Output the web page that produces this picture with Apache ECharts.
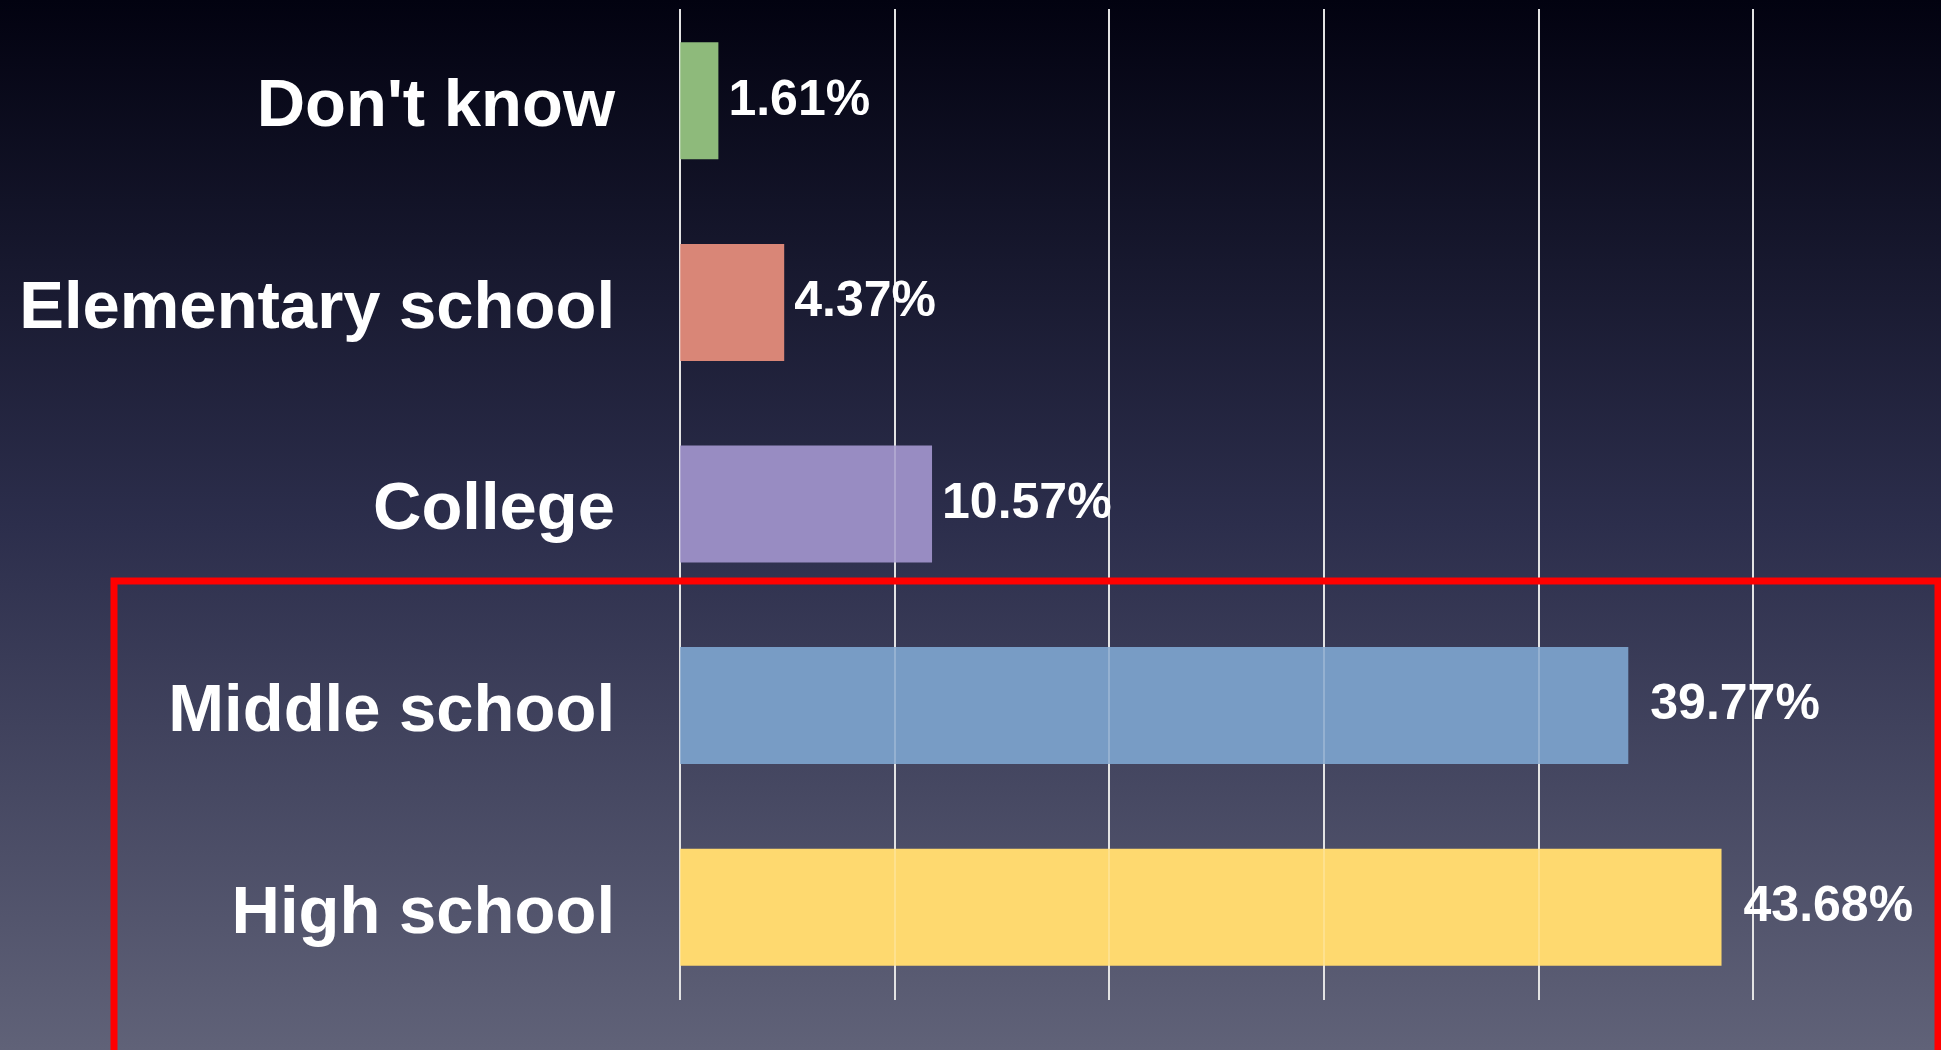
<!DOCTYPE html>
<html lang="en" style="height: 100%">
<head>
  <meta charset="utf-8" />
  <title>Education level</title>
  <script src="https://cdn.jsdelivr.net/npm/echarts@6/dist/echarts.min.js"></script>
</head>
<body style="margin: 0; height: 100%">
<div id="chart" style="width: 1941px; height: 1050px"></div>
<script>
  // categories top to bottom
  const categories = ['Don\'t know', 'Elementary school', 'College', 'Middle school', 'High school'];
  const shares = [1.61, 4.37, 10.57, 39.77, 43.68];
  const barColors = ['#8eba7b', '#d98677', '#988cc2', '#789cc5', '#fed96f'];

  const chart = echarts.init(document.getElementById('chart'));

  const font = '"Liberation Sans", Arial, sans-serif';

  const valueAxis = (grid, z, color) => ({
    gridIndex: grid, type: 'value', min: 0, max: 45, interval: 9, z: z,
    axisLine: { show: false }, axisTick: { show: false },
    axisLabel: { show: false },
    splitLine: { show: !!color, lineStyle: { color: color, width: 2 } }
  });

  chart.setOption({
    backgroundColor: {
      type: 'linear', x: 0, y: 0, x2: 0, y2: 1,
      colorStops: [
        { offset: 0, color: '#020210' },
        { offset: 0.5, color: '#2c2e4c' },
        { offset: 1, color: '#606278' }
      ]
    },
    animation: false,
    grid: [
      { left: 680, right: 188, top: -1, height: 1009 },
      { left: 680, right: 188, top: 9, height: 991 },
      { left: 680, right: 188, top: 9, height: 991 }
    ],
    xAxis: [
      valueAxis(0, 0, null),
      valueAxis(1, 0, '#dcdcdc'),
      // faint lines showing through the bars
      valueAxis(2, 6, 'rgba(255,255,255,0.22)')
    ],
    yAxis: [
      {
        gridIndex: 0, type: 'category', data: categories, inverse: true,
        axisLine: { show: false }, axisTick: { show: false },
        axisLabel: {
          margin: 65, color: '#ffffff', fontFamily: font,
          fontWeight: 'bold', fontSize: 67,
          formatter: v => '{a|' + v + '}',
          rich: {
            a: {
              color: '#ffffff', fontFamily: font, fontWeight: 'bold',
              fontSize: 67, padding: [14, 0, 0, 0]
            }
          }
        }
      },
      { gridIndex: 1, type: 'category', data: categories, inverse: true, show: false },
      { gridIndex: 2, type: 'category', data: categories, inverse: true, show: false }
    ],
    graphic: [
      {
        type: 'rect', z: 100,
        shape: { x: 114, y: 581, width: 1824, height: 600 },
        style: { fill: 'none', stroke: '#ff0000', lineWidth: 7 }
      }
    ],
    series: [
      {
        type: 'bar', xAxisIndex: 0, yAxisIndex: 0, z: 3,
        barWidth: 117,
        data: shares.map((v, i) => ({
          value: v,
          itemStyle: { color: barColors[i] },
          label: { distance: i < 3 ? 10 : 22 }
        })),
        label: {
          show: true, position: 'right', distance: 12,
          color: '#ffffff', fontFamily: font, fontWeight: 'bold', fontSize: 50,
          formatter: p => p.value.toFixed(2) + '%'
        }
      }
    ]
  });

  window.addEventListener('resize', () => chart.resize());
</script>
</body>
</html>
